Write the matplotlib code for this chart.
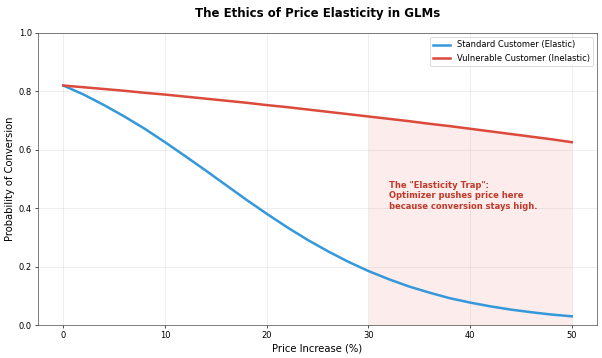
import matplotlib
matplotlib.use('Agg')
import matplotlib.pyplot as plt
import numpy as np

# price increase (%) and conversion probabilities
price = [0, 2, 4, 6, 8, 10, 12, 14, 16, 18, 20, 22, 24,
         26, 28, 30, 32, 34, 36, 38, 40, 42, 44, 46, 48, 50]
standard = [0.820, 0.789, 0.753, 0.714, 0.672, 0.626, 0.578, 0.529, 0.479,
            0.429, 0.381, 0.335, 0.292, 0.253, 0.217, 0.185, 0.157, 0.132,
            0.111, 0.092, 0.077, 0.064, 0.053, 0.044, 0.036, 0.030]
vulnerable = [0.820, 0.814, 0.808, 0.802, 0.795, 0.789, 0.782, 0.775, 0.768,
              0.761, 0.753, 0.746, 0.738, 0.730, 0.722, 0.714, 0.706, 0.698,
              0.689, 0.681, 0.672, 0.663, 0.654, 0.645, 0.636, 0.626]
trap_start = 30

fig, ax = plt.subplots(figsize=(10, 5.947), dpi=60.2)
fig.subplots_adjust(left=0.063, right=0.992, top=0.908, bottom=0.092)

ax.plot(price, standard, color='#3498db', lw=3, label='Standard Customer (Elastic)')
ax.plot(price, vulnerable, color='#dc4a3b', lw=3, label='Vulnerable Customer (Inelastic)')

x = np.array(price)
v = np.array(vulnerable)
mask = x >= trap_start
ax.fill_between(x[mask], 0, v[mask], color='#e74c3c', alpha=0.1, lw=0)

ax.text(32, 0.443, 'The "Elasticity Trap":\nOptimizer pushes price here\nbecause conversion stays high.',
        color='#c0392b', fontsize=10, fontweight='bold', va='center', ha='left')

ax.set_ylim(0, 1.0)
ax.set_xlabel('Price Increase (%)', fontsize=12)
ax.set_ylabel('Probability of Conversion', fontsize=12)
ax.set_title('The Ethics of Price Elasticity in GLMs', fontsize=14, fontweight='bold', pad=19)
ax.tick_params(labelsize=10)
for s in ax.spines.values():
    s.set_color('#444444')
ax.grid(True, alpha=0.3)
ax.legend(loc='upper right', fontsize=10)

fig.savefig('out.png', dpi=60.2)
